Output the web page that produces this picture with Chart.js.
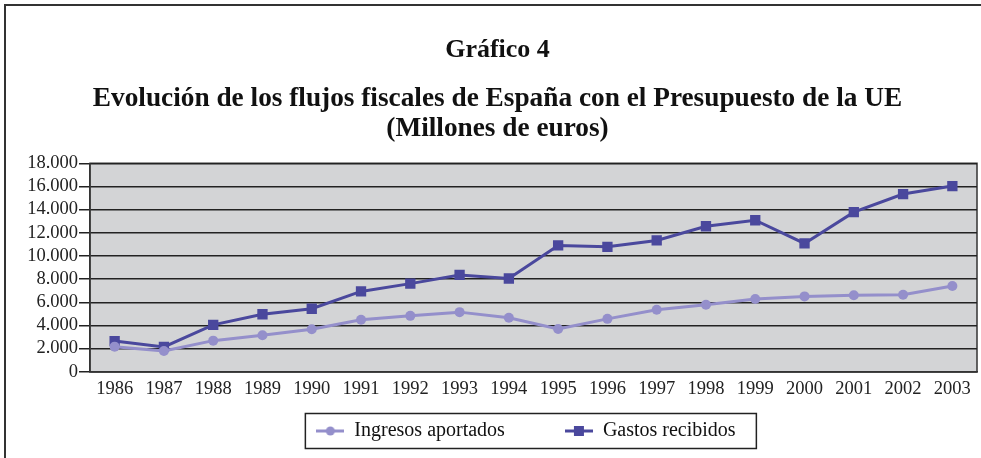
<!DOCTYPE html>
<html>
<head>
<meta charset="utf-8">
<script src="https://cdn.jsdelivr.net/npm/chart.js@4"></script>
<style>
  html, body { margin: 0; padding: 0; background: #fff; overflow: hidden; }
  #wrap { position: relative; width: 981px; height: 458px; overflow: hidden; }
  #frame { position: absolute; left: 4px; top: 4px; width: 990px; height: 470px;
           border-left: 2px solid #333; border-top: 2px solid #333; pointer-events: none; }
</style>
</head>
<body>
<div id="wrap">
  <canvas id="grafico4"></canvas>
  <div id="frame"></div>
</div>
<script>
const years = ['1986', '1987', '1988', '1989', '1990', '1991', '1992', '1993', '1994',
  '1995', '1996', '1997', '1998', '1999', '2000', '2001', '2002', '2003']
// millones de euros
const ingresos = [2170, 1800, 2690, 3150, 3670, 4490, 4830, 5150, 4660, 3700, 4570, 5350, 5790, 6280, 6510, 6600, 6650, 7400]
const gastos = [2650, 2150, 4050, 4970, 5440, 6940, 7610, 8360, 8050, 10910, 10790, 11340, 12560, 13080, 11080, 13780, 15340, 16030]

const serif = 'Liberation Serif'
const lightColor = '#948fcb'
const darkColor = '#4a489d'

// small line+marker swatches for the legend
function swatch(color, shape) {
  const c = document.createElement('canvas')
  c.width = 28
  c.height = 14
  const g = c.getContext('2d')
  g.strokeStyle = color
  g.lineWidth = 3
  g.beginPath()
  g.moveTo(0, 7)
  g.lineTo(28, 7)
  g.stroke()
  g.fillStyle = color
  if (shape === 'circle') {
    g.beginPath()
    g.arc(14, 7, 4.5, 0, Math.PI * 2)
    g.fill()
  } else {
    g.fillRect(9, 2, 10, 10)
  }
  return c
}

const plotBg = {
  id: 'plotBg',
  beforeDraw(chart) {
    const {ctx, chartArea: a} = chart
    ctx.save()
    ctx.fillStyle = '#d3d4d6'
    ctx.fillRect(a.left, a.top, a.right - a.left, a.bottom - a.top)
    ctx.strokeStyle = '#333'
    ctx.lineWidth = 1.5
    ctx.strokeRect(a.left, a.top, a.right - a.left, a.bottom - a.top)
    ctx.restore()
  }
}

const legendFrame = {
  id: 'legendFrame',
  afterDraw(chart) {
    const boxes = chart.legend.legendHitBoxes
    if (!boxes || !boxes.length) return
    const first = boxes[0]
    const cy = first.top + first.height / 2
    const ctx = chart.ctx
    ctx.save()
    ctx.strokeStyle = '#222'
    ctx.lineWidth = 1.5
    ctx.strokeRect(first.left - 11, cy - 17.5, 451, 35)
    ctx.restore()
  }
}

new Chart(document.getElementById('grafico4'), {
  type: 'line',
  data: {
    labels: years,
    datasets: [
      {
        label: 'Ingresos aportados',
        data: ingresos,
        borderColor: lightColor,
        backgroundColor: lightColor,
        borderWidth: 3,
        pointStyle: 'circle',
        pointRadius: 5,
        pointBorderWidth: 0,
        tension: 0
      },
      {
        label: 'Gastos recibidos',
        data: gastos,
        borderColor: darkColor,
        backgroundColor: darkColor,
        borderWidth: 3,
        pointStyle: 'rect',
        pointRadius: 7.3,
        pointBorderWidth: 0,
        tension: 0
      }
    ]
  },
  options: {
    responsive: true,
    maintainAspectRatio: false,
    animation: false,
    layout: { autoPadding: false, padding: { left: 18, right: 4, top: 0, bottom: 7 } },
    plugins: {
      title: {
        display: true,
        text: 'Gráfico 4',
        color: '#111',
        font: { family: serif, size: 26, weight: 'bold' },
        padding: { top: 35, bottom: 0 }
      },
      subtitle: {
        display: true,
        text: ['Evolución de los flujos fiscales de España con el Presupuesto de la UE', '(Millones de euros)'],
        color: '#111',
        font: { family: serif, size: 27.3, weight: 'bold', lineHeight: 1.1 },
        padding: { top: 18, bottom: 19 }
      },
      legend: {
        position: 'bottom',
        fullSize: false,
        labels: {
          color: '#111',
          font: { family: serif, size: 20 },
          usePointStyle: true,
          pointStyleWidth: 28,
          padding: 15,
          generateLabels(chart) {
            const items = Chart.defaults.plugins.legend.labels.generateLabels(chart)
            items[0].pointStyle = swatch(lightColor, 'circle')
            items[1].pointStyle = swatch(darkColor, 'rect')
            // spacing between the two entries, as in the original
            items[0].text = items[0].text + '         '
            items[1].text = items[1].text + '   '
            return items
          }
        }
      },
      tooltip: { enabled: false }
    },
    scales: {
      x: {
        offset: true,
        grid: { display: false, drawTicks: false, tickLength: 0 },
        border: { display: true, color: '#333', width: 1.5 },
        ticks: { color: '#222', font: { family: serif, size: 18.5 }, padding: 6, maxRotation: 0, autoSkip: false }
      },
      y: {
        min: 0,
        max: 18000,
        afterFit(scale) { scale.width = 72 },
        grid: { color: '#222', lineWidth: 1.5, tickLength: 11 },
        border: { display: true, color: '#333', width: 1.5 },
        ticks: {
          stepSize: 2000,
          autoSkip: false,
          color: '#222',
          padding: 1,
          font: { family: serif, size: 18.5 },
          callback: v => String(v).replace(/\B(?=(\d{3})+(?!\d))/g, '.')
        }
      }
    }
  },
  plugins: [plotBg, legendFrame]
})
</script>
</body>
</html>
